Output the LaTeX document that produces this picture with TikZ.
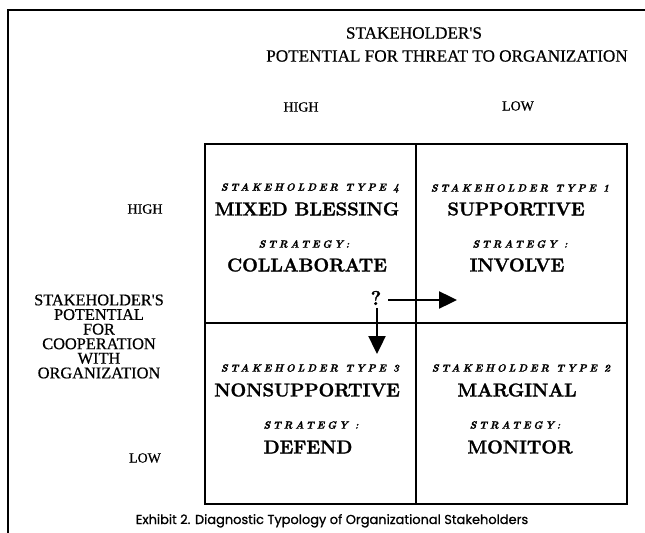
\documentclass[tikz,border=0pt]{standalone}
\usepackage{fontspec}
\usetikzlibrary{arrows.meta}
\newfontfamily\timesf[FakeBold=0.6]{Liberation Serif}
\newfontfamily\capfont[FakeBold=0.9]{Poppins}
\newfontfamily\namefont[FakeBold=1.6]{Latin Modern Roman}
\newfontfamily\typefont[FakeBold=1.3,LetterSpace=24]{Latin Modern Roman}
\tikzset{
  outerframe/.style={line width=1.8bp, line cap=rect},
  gridline/.style={line width=1.4bp},
  txt/.style={inner sep=0pt, outer sep=0pt},
  axishead/.style={txt, font=\timesf\fontsize{17.2}{17.2}\selectfont},
  axisside/.style={txt, font=\timesf\fontsize{16.4}{16.4}\selectfont},
  levellbl/.style={txt, font=\timesf\fontsize{14}{14}\selectfont},
  typelbl/.style={txt, font=\typefont\fontsize{10.5}{10.5}\selectfont\bfseries\itshape},
  namelbl/.style={txt, font=\namefont\fontsize{18.6}{18.6}\selectfont\bfseries},
  caplbl/.style={txt, anchor=base, font=\capfont\fontsize{13}{13}\selectfont},
  bigarrow/.style={line width=2.4bp, -{Triangle[length=18bp,width=17bp]}}
}
\begin{document}
\begin{tikzpicture}[x=1bp,y=-1bp]
  \useasboundingbox (0,0) rectangle (645,533);
  % page frame (left and top edges)
  \draw[outerframe] (8,533) -- (8,10) -- (645,10);

  % 2x2 grid
  \draw[gridline] (205,144) rectangle (627,504);
  \draw[gridline] (416,144) -- (416,504);
  \draw[gridline] (205,323) -- (627,323);

  % horizontal axis
  \node[axishead] (hx1) at (414,33) {STAKEHOLDER'S};
  \node[axishead] (hx2) at (447,56) {POTENTIAL FOR THREAT TO ORGANIZATION};
  \node[levellbl] (hxhigh) at (301,107) {HIGH};
  \node[levellbl] (hxlow) at (518,106) {LOW};

  % vertical axis, one line per node (tight leading)
  \node[axisside] (vx1) at (99,300) {STAKEHOLDER'S};
  \node[axisside] (vx2) at (99,314.6) {POTENTIAL};
  \node[axisside] (vx3) at (99,329.2) {FOR};
  \node[axisside] (vx4) at (99,343.8) {COOPERATION};
  \node[axisside] (vx5) at (99,358.4) {WITH};
  \node[axisside] (vx6) at (99,373) {ORGANIZATION};
  \node[levellbl] (vxhigh) at (145,209) {HIGH};
  \node[levellbl] (vxlow) at (145,458) {LOW};

  % type 4
  \node[typelbl] (t4) at (310,188) {STAKEHOLDER TYPE 4};
  \node[namelbl] (n4) at (307,209) {MIXED BLESSING};
  \node[typelbl] (s4) at (304,244) {STRATEGY:};
  \node[namelbl] (a4) at (307,265) {COLLABORATE};

  % type 1
  \node[typelbl] (t1) at (520,188) {STAKEHOLDER TYPE 1};
  \node[namelbl] (n1) at (516,209) {SUPPORTIVE};
  \node[typelbl] (s1) at (520,244) {STRATEGY :};
  \node[namelbl] (a1) at (517,265) {INVOLVE};

  % type 3
  \node[typelbl] (t3) at (310,368) {STAKEHOLDER TYPE 3};
  \node[namelbl] (n3) at (307,390) {NONSUPPORTIVE};
  \node[typelbl] (s3) at (311,425) {STRATEGY :};
  \node[namelbl] (a3) at (308,447) {DEFEND};

  % type 2
  \node[typelbl] (t2) at (521,368) {STAKEHOLDER TYPE 2};
  \node[namelbl] (n2) at (517,390) {MARGINAL};
  \node[typelbl] (s2) at (515,425) {STRATEGY:};
  \node[namelbl] (a2) at (520,447) {MONITOR};

  % shift of the mixed-blessing stakeholder
  \node[namelbl, font=\namefont\fontsize{20}{20}\selectfont\bfseries] (q) at (376,298) {?};
  \coordinate (qright) at (457,300);
  \coordinate (qdown) at (377,354);
  \draw[bigarrow] ([xshift=7bp]q.east |- qright) -- (qright);
  \draw[bigarrow] ([yshift=-3bp]q.south -| qdown) -- (qdown);

  % caption
  \node[caplbl] (cap) at (332,524) {Exhibit 2. Diagnostic Typology of Organizational Stakeholders};
\end{tikzpicture}
\end{document}
